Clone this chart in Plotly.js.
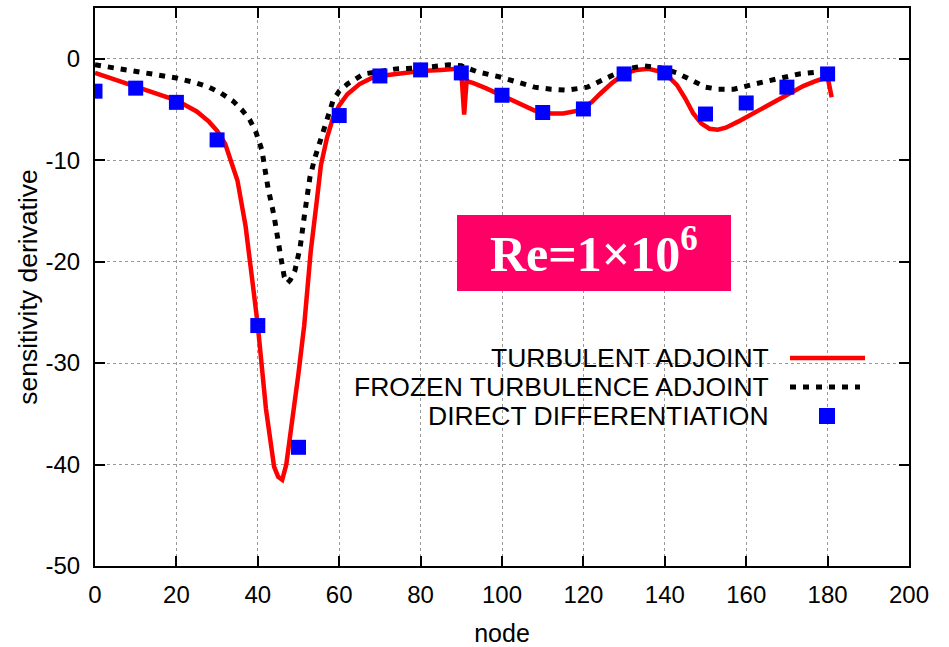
<!DOCTYPE html>
<html>
<head>
<meta charset="utf-8">
<script src="https://cdn.plot.ly/plotly-3.0.1.min.js"></script>
<style>html,body{margin:0;padding:0;background:#fff;}#chart{width:949px;height:647px;}</style>
</head>
<body>
<div id="chart"></div>
<script>
// Turbulent adjoint (red solid)
var turbNode = [0,5,10,15,20,25,28,30,32,35,37,39,40,42,44,45,46,47,48,49,50,51.4,53,54.5,55.5,57,58.5,60,62,65,68,72,76,80,85,89,90,90.7,91.3,93,96,100,104,108,112,115,119,122,124,127,130,133,136,139,141,143,145,147,149,151,153,155,158,162,166,170,174,177,180,181];
var turbVal = [-1.4,-2.1,-2.8,-3.4,-4.1,-5.2,-6.2,-7.1,-8.4,-12,-16.5,-23,-26.3,-34.5,-40.2,-41.2,-41.5,-40,-37.2,-34.5,-31,-26.3,-19,-14,-10.5,-7.8,-5.8,-4.6,-3.5,-2.5,-1.9,-1.6,-1.4,-1.2,-1.1,-1.0,-1.3,-5.5,-2.2,-2.4,-2.9,-3.6,-4.4,-5.1,-5.4,-5.4,-5.1,-4.3,-3.5,-2.4,-1.5,-1.1,-1.0,-1.3,-1.8,-2.6,-3.9,-5.4,-6.4,-6.9,-7.0,-6.8,-6.2,-5.3,-4.4,-3.5,-2.7,-2.2,-1.8,-3.8];

// Frozen turbulence adjoint (black dotted)
var frozNode = [0,5,10,15,20,25,28,31,34,36,38,39.5,41,42.5,44,45.5,46.5,47.3,48,49.1,50.4,51.5,52.8,54,55.3,57,58.5,60,62,66,70,74,80,87,90,94,99.5,104,108,112,116,121,126,130.5,135,139,143,147,150,153,157,162,167,173,178,180];
var frozVal = [-0.6,-0.9,-1.2,-1.5,-1.9,-2.4,-2.8,-3.4,-4.2,-5.0,-6.0,-7.2,-9,-12.7,-15.5,-19.2,-21.5,-22.1,-21.8,-20.9,-18.6,-15.3,-11.7,-9.8,-8.1,-5.8,-4.1,-3.2,-2.5,-1.5,-1.2,-1.0,-0.9,-0.6,-0.7,-1.3,-1.8,-2.3,-2.8,-3.0,-3.1,-2.8,-1.8,-1.0,-0.7,-0.9,-1.4,-2.2,-2.8,-3.0,-3.0,-2.5,-2.0,-1.5,-1.3,-1.2];

// Direct differentiation (blue squares)
var ddNode = [0,10,20,30,40,50,60,70,80,90,100,110,120,130,140,150,160,170,180];
var ddVal = [-3.2,-2.9,-4.3,-8.0,-26.3,-38.3,-5.6,-1.7,-1.1,-1.4,-3.6,-5.3,-4.95,-1.5,-1.4,-5.45,-4.36,-2.8,-1.5];

var xTicks = [0,20,40,60,80,100,120,140,160,180,200];
var yTicks = [-50,-40,-30,-20,-10,0];
var legendNames = ["TURBULENT ADJOINT","FROZEN TURBULENCE ADJOINT","DIRECT DIFFERENTIATION"];
var xTitle = "node";
var yTitle = "sensitivity derivative";
var boxLabel = "Re=1×10<sup>6</sup>";

var FONT = "Liberation Sans, Arial, Helvetica, sans-serif";

var traces = [
  {x: turbNode, y: turbVal, type: "scatter", mode: "lines", name: legendNames[0],
   line: {color: "#ff0000", width: 4.5}, showlegend: false},
  {x: frozNode, y: frozVal, type: "scatter", mode: "lines", name: legendNames[1],
   line: {color: "#000000", width: 5, dash: "6px,7px"}, showlegend: false},
  {x: ddNode, y: ddVal, type: "scatter", mode: "markers", name: legendNames[2],
   marker: {symbol: "square", size: 15, color: "#0000ff"}, showlegend: false}
];

var legRows = [0.3728, 0.3208, 0.2688];
var legTextX = 0.8305;
var sx0 = (790-95)/814, sx1 = (865-95)/814;

var shapes = [
  // legend background hiding grid
  {type: "rect", xref: "paper", yref: "paper", x0: 0.340, x1: 0.964, y0: 0.229, y1: 0.405,
   fillcolor: "#ffffff", line: {width: 0}, layer: "between"},
  // label box
  {type: "rect", xref: "paper", yref: "paper", x0: (457-95)/814, x1: (731-95)/814,
   y0: (566-291)/558, y1: (566-215)/558, fillcolor: "#ff0066", line: {width: 0}, layer: "above"},
  // legend samples
  {type: "line", xref: "paper", yref: "paper", x0: sx0, x1: sx1, y0: legRows[0], y1: legRows[0],
   line: {color: "#ff0000", width: 4.5}},
  {type: "line", xref: "paper", yref: "paper", x0: sx0, x1: (860-95)/814, y0: legRows[1], y1: legRows[1],
   line: {color: "#000000", width: 5, dash: "6px,7px"}},
  {type: "rect", xref: "paper", yref: "paper", x0: (819-95)/814, x1: (835-95)/814,
   y0: legRows[2] - 8/558, y1: legRows[2] + 8/558, fillcolor: "#0000ff", line: {width: 0}}
];

var annotations = [];
for (var i = 0; i < legendNames.length; i++) {
  annotations.push({xref: "paper", yref: "paper", x: legTextX, y: legRows[i],
    xanchor: "right", yanchor: "middle", showarrow: false, text: legendNames[i],
    font: {family: FONT, size: 26.5, color: "#000"}});
}
annotations.push({xref: "paper", yref: "paper", x: (594-95)/814, y: (566-251)/558,
  xanchor: "center", yanchor: "middle", showarrow: false, text: boxLabel,
  font: {family: "Liberation Serif, Times New Roman, serif", size: 50, color: "#ffffff", weight: "bold"}});

var axisCommon = {
  showline: true, linecolor: "#000", linewidth: 2, mirror: "allticks",
  ticks: "inside", ticklen: 10, tickwidth: 2, tickcolor: "#000",
  showgrid: true, gridcolor: "#999999", gridwidth: 1, griddash: "dot",
  zeroline: false, tickfont: {family: FONT, size: 24, color: "#000"}
};

var layout = {
  width: 949, height: 647,
  margin: {l: 95, r: 40, t: 8, b: 81},
  paper_bgcolor: "#fff", plot_bgcolor: "#fff",
  showlegend: false,
  xaxis: Object.assign({}, axisCommon, {
    range: [0, 200], tickmode: "array", tickvals: xTicks, ticktext: xTicks.map(String),
    ticklabelstandoff: 6,
    title: {text: xTitle, font: {family: FONT, size: 25, color: "#000"}, standoff: 18}
  }),
  yaxis: Object.assign({}, axisCommon, {
    range: [-50, 5], tickmode: "array", tickvals: yTicks, ticktext: yTicks.map(String),
    ticklabelstandoff: 8,
    title: {text: yTitle, font: {family: FONT, size: 26.5, color: "#000"}, standoff: 0}
  }),
  shapes: shapes,
  annotations: annotations
};

Plotly.newPlot("chart", traces, layout, {displayModeBar: false, staticPlot: true});
</script>
</body>
</html>
